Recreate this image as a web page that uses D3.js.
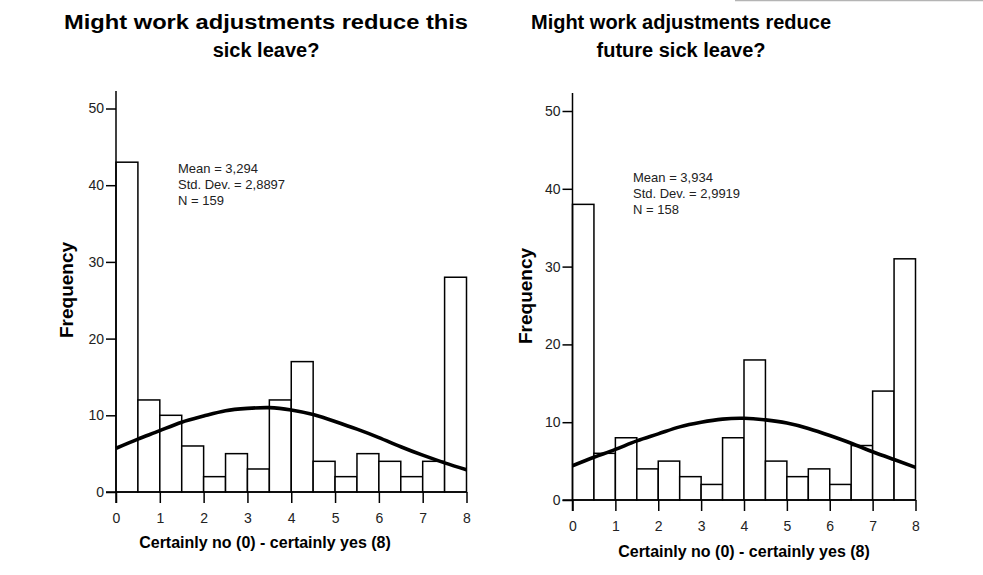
<!DOCTYPE html>
<html>
<head>
<meta charset="utf-8">
<script src="https://cdn.jsdelivr.net/npm/d3@7"></script>
<style>
  body { margin: 0; background: #fff; }
  svg { font-family: "Liberation Sans", Arial, sans-serif; }
</style>
</head>
<body>
<script>
// bin start values (each bin is half a point wide)
var binStarts = [0, 0.5, 1, 1.5, 2, 2.5, 3, 3.5, 4, 4.5, 5, 5.5, 6, 6.5, 7, 7.5];
var binWidth = 0.5;

// frequencies
var thisLeaveFreq   = [43, 12, 10, 6, 2, 5, 3, 12, 17, 4, 2, 5, 4, 2, 4, 28];
var futureLeaveFreq = [38, 6, 8, 4, 5, 3, 2, 8, 18, 5, 3, 4, 2, 7, 14, 31];

// normal curve, read at every half point
var curveX = [0, 0.5, 1, 1.5, 2, 2.5, 3, 3.5, 4, 4.5, 5, 5.5, 6, 6.5, 7, 7.5, 8];
var thisLeaveCurve   = [5.7, 6.9, 8.0, 9.1, 9.9, 10.6, 10.9, 11.0, 10.7, 10.1, 9.2, 8.2, 7.1, 5.9, 4.8, 3.8, 2.9];
var futureLeaveCurve = [4.4, 5.5, 6.5, 7.6, 8.5, 9.4, 10.0, 10.4, 10.5, 10.3, 9.9, 9.2, 8.3, 7.3, 6.2, 5.2, 4.2];

var xTicks = [0, 1, 2, 3, 4, 5, 6, 7, 8];
var yTicks = [0, 10, 20, 30, 40, 50];

var titles = [
  ["Might work adjustments reduce this", "sick leave?"],
  ["Might work adjustments reduce", "future sick leave?"]
];
var statLines = [
  ["Mean = 3,294", "Std. Dev. = 2,8897", "N = 159"],
  ["Mean = 3,934", "Std. Dev. = 2,9919", "N = 158"]
];
var xLabel = "Certainly no (0) - certainly yes (8)";
var yLabel = "Frequency";

var svg = d3.select("body").append("svg")
  .attr("width", 983)
  .attr("height", 575);

// faint scan edge at the top right
svg.append("line")
  .attr("x1", 735).attr("x2", 983)
  .attr("y1", 0.5).attr("y2", 0.5)
  .attr("stroke", "#b4b4b4").attr("stroke-width", 1.5);

// the left title was set wider than the right one in the original
var panels = [
  { freq: thisLeaveFreq, curve: thisLeaveCurve, title: titles[0], stats: statLines[0],
    x0: 116, x1: 466.5, y0: 492, y50: 108.5, top: 91, titleX: 266, titleW: [404, null],
    statX: 178, statY: 173, yLabX: 73, yLabY: 290, xLabX: 265, xLabY: 548 },
  { freq: futureLeaveFreq, curve: futureLeaveCurve, title: titles[1], stats: statLines[1],
    x0: 572.5, x1: 915.5, y0: 500, y50: 111, top: 93, titleX: 681, titleW: [null, null],
    statX: 633, statY: 182, yLabX: 532, yLabY: 296, xLabX: 744, xLabY: 557 }
];

panels.forEach(function (p) {
  var x = d3.scaleLinear().domain([0, 8]).range([p.x0, p.x1]);
  var y = d3.scaleLinear().domain([0, 50]).range([p.y0, p.y50]);
  var g = svg.append("g");

  // bars
  g.selectAll("rect.bar")
    .data(p.freq)
    .enter()
    .append("rect")
    .attr("class", "bar")
    .attr("x", function (d, i) { return x(binStarts[i]); })
    .attr("y", function (d) { return y(d); })
    .attr("width", function (d, i) { return x(binStarts[i] + binWidth) - x(binStarts[i]); })
    .attr("height", function (d) { return y(0) - y(d); })
    .style("fill", "#fff")
    .style("stroke", "#000")
    .style("stroke-width", 1.5);

  // normal curve
  var line = d3.line()
    .x(function (d, i) { return x(curveX[i]); })
    .y(function (d) { return y(d); })
    .curve(d3.curveNatural);
  g.append("path")
    .datum(p.curve)
    .attr("d", line)
    .attr("fill", "none")
    .attr("stroke", "#000")
    .attr("stroke-width", 3.6);

  // y axis
  var yAxis = g.append("g")
    .attr("transform", "translate(" + p.x0 + ",0)")
    .call(d3.axisLeft(y).tickValues(yTicks).tickSize(10).tickPadding(2));
  yAxis.select(".domain").remove();
  yAxis.append("line")
    .attr("x1", 0).attr("x2", 0)
    .attr("y1", p.top).attr("y2", p.y0 + 11)
    .attr("stroke", "#000").attr("stroke-width", 1.5);

  // x axis
  var xAxis = g.append("g")
    .attr("transform", "translate(0," + p.y0 + ")")
    .call(d3.axisBottom(x).tickValues(xTicks).tickSize(11).tickPadding(10));
  xAxis.select(".domain").remove();
  xAxis.append("line")
    .attr("x1", p.x0 - 10).attr("x2", p.x1)
    .attr("y1", 0).attr("y2", 0)
    .attr("stroke", "#000").attr("stroke-width", 1.5);

  svg.selectAll(".tick line").attr("stroke-width", 1.5);
  svg.selectAll(".tick text")
    .style("font-size", "14px")
    .style("font-family", "\"Liberation Sans\", Arial, sans-serif")
    .attr("fill", "#222");

  // title
  g.selectAll("text.title")
    .data(p.title)
    .enter()
    .append("text")
    .attr("class", "title")
    .attr("x", p.titleX)
    .attr("y", function (d, i) { return 29 + i * 28; })
    .attr("text-anchor", "middle")
    .style("font-size", "20px")
    .style("font-weight", "bold")
    .each(function (d, i) {
      if (p.titleW[i]) {
        d3.select(this).attr("textLength", p.titleW[i]).attr("lengthAdjust", "spacingAndGlyphs");
      }
    })
    .text(function (d) { return d; });

  // stats box
  g.selectAll("text.stat")
    .data(p.stats)
    .enter()
    .append("text")
    .attr("class", "stat")
    .attr("x", p.statX)
    .attr("y", function (d, i) { return p.statY + i * 16; })
    .style("font-size", "13px")
    .attr("fill", "#222")
    .text(function (d) { return d; });

  // axis titles
  g.append("text")
    .attr("transform", "translate(" + p.yLabX + "," + p.yLabY + ") rotate(-90)")
    .attr("text-anchor", "middle")
    .style("font-size", "19px")
    .style("font-weight", "bold")
    .text(yLabel);

  g.append("text")
    .attr("x", p.xLabX)
    .attr("y", p.xLabY)
    .attr("text-anchor", "middle")
    .style("font-size", "16px")
    .style("font-weight", "bold")
    .text(xLabel);
});
</script>
</body>
</html>
